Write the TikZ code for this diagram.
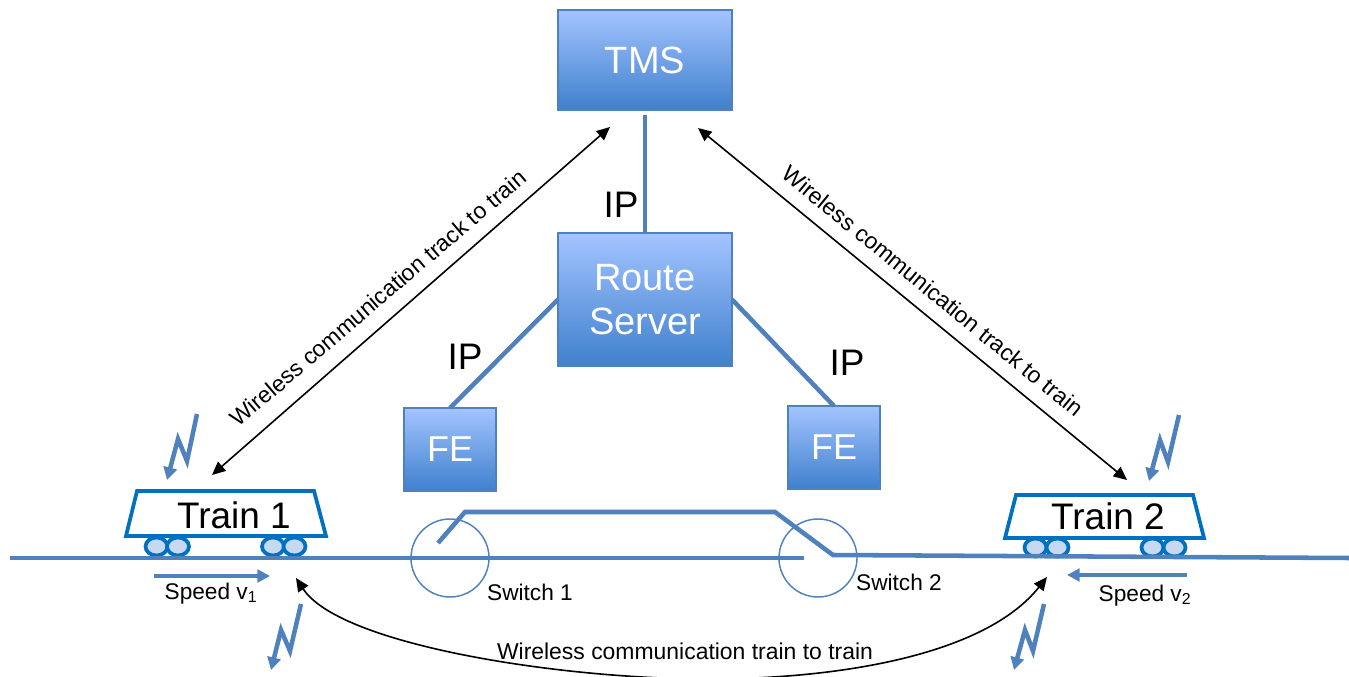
\documentclass[tikz,border=0pt]{standalone}
\usepackage{fontspec}
\setmainfont{Liberation Sans}
\usetikzlibrary{arrows.meta,calc,shapes.geometric}
\definecolor{lineblue}{HTML}{4F81BD}
\definecolor{trainblue}{HTML}{0070C0}
\definecolor{wheelfill}{HTML}{C6D9F1}
\definecolor{boxtop}{HTML}{A3C4FF}
\definecolor{boxbot}{HTML}{3F80CD}
\tikzset{
  box/.style={draw=lineblue,line width=1.5pt,top color=boxtop,bottom color=boxbot,text=white,inner sep=0pt,outer sep=0pt,align=center,font=\fontsize{28.5}{33}\selectfont},
  link/.style={draw=lineblue,line width=3.4pt},
  track/.style={draw=lineblue,line width=3.4pt},
  trainbody/.style={draw=trainblue,line width=2.8pt,line join=miter},
  wheel/.style={draw=trainblue,fill=wheelfill,line width=2.8pt,ellipse,minimum width=16.5pt,minimum height=13.5pt,inner sep=0pt},
  switchring/.style={draw=lineblue,line width=1.1pt,circle,minimum size=58.5pt,inner sep=0pt},
  comm/.style={{Triangle[length=10pt,width=9pt]}-{Triangle[length=10pt,width=9pt]},line width=1.2pt,black},
  bolt/.style={draw=lineblue,line width=3.4pt,-{Triangle[length=9.5pt,width=10pt]},line join=miter},
  speedarrow/.style={draw=lineblue,line width=3pt,-{Triangle[length=9.5pt,width=9.5pt]}},
  big/.style={font=\fontsize{27.7}{33}\selectfont,inner sep=0pt},
  small/.style={font=\fontsize{17}{20}\selectfont,inner sep=0pt},
  mid/.style={font=\fontsize{17.2}{20}\selectfont,inner sep=0pt},
}
\begin{document}
\begin{tikzpicture}[x=0.75pt,y=-0.75pt]
\useasboundingbox (0,0) rectangle (1349,677);
% boxes
\node[box,minimum width=130.5pt,minimum height=75pt] (tms) at (645,60) {TMS};
\node[box,minimum width=130.5pt,minimum height=99.75pt] (rs) at (645,299.5) {\raisebox{-0.75pt}{Route}\\\raisebox{-0.75pt}{Server}};
\node[box,font=\fontsize{27}{33}\selectfont,minimum width=69pt,minimum height=62.25pt] (fea) at (450,449.5) {\raisebox{-1pt}{FE}};
\node[box,font=\fontsize{27}{33}\selectfont,minimum width=69pt,minimum height=62.25pt] (feb) at (834,447.5) {\raisebox{-1pt}{FE}};
% links
\draw[link,shorten <=3.75pt] (tms.south) -- (rs.north);
\draw[link] (rs.west) -- (fea.north);
\draw[link] (rs.east) -- (feb.north);
\node[big] (ipa) at (621,205) {IP};
\node[big] (ipb) at (465,357) {IP};
\node[big] (ipc) at (847,363) {IP};
% switches
\node[switchring] (swa) at (450,558) {};
\node[switchring] (swb) at (818,558) {};
% wheels
\foreach \n/\x/\y in {wa/156.5/546.5,wb/178/546.5,wc/273/546.5,wd/294.5/546.5,we/1035.5/547.5,wf/1057.5/547.5,wg/1152.5/547.5,wh/1174.5/547.5}
  \node[wheel] (\n) at (\x,\y) {};
% tracks
\draw[track] (10,558) -- (804,558);
\draw[track] (438,543) -- (465,512) -- (775,512) -- (833,555) -- (1349,558);
% trains
\draw[trainbody,fill=white] (137,491) -- (314,491) -- (326,536) -- (126,536) -- cycle;
\draw[trainbody,fill=white] (1016,495) -- (1193,495) -- (1204,538) -- (1005,538) -- cycle;
\node[big] (tra) at (234,515) {Train 1};
\node[big] (trb) at (1108,516) {Train 2};
% bolts
\draw[bolt] (197,414) -- (187,461) -- (178,439) -- (167,480);
\draw[bolt] (301,604) -- (290,651) -- (281,630) -- (271,670);
\draw[bolt] (1179,415) -- (1168,462) -- (1160,440) -- (1149,481);
\draw[bolt] (1044,604) -- (1033,651) -- (1025,630) -- (1014,670);
% speed
\coordinate (sa1) at (154,576); \coordinate (sa2) at (270,576);
\coordinate (sb1) at (1187,575); \coordinate (sb2) at (1067,575);
\draw[speedarrow] (sa1) -- (sa2);
\draw[speedarrow] (sb1) -- (sb2);
\node[small] (va) at (211,593.5) {Speed v\textsubscript{1}};
\node[small] (vb) at (1145,595.5) {Speed v\textsubscript{2}};
\node[small] (sla) at (530,592) {Switch 1};
\node[small] (slb) at (899,582) {Switch 2};
% comm arrows
\coordinate (ta) at (610,127); \coordinate (tb) at (212,475);
\coordinate (tc) at (698,128); \coordinate (td) at (1127,480);
\coordinate (te) at (296,578); \coordinate (tf) at (1047,577);
\coordinate (tm) at (708,679);
\draw[comm] (ta) -- (tb);
\draw[comm] (tc) -- (td);
\draw[comm] (te) .. controls (340,645) and (560,679) .. (tm) .. controls (840,679) and (985,655) .. (tf);
\node[mid,rotate=40.5] (ca) at (378,298) {Wireless communication track to train};
\node[mid,rotate=-39.3] (cb) at (933,291) {Wireless communication track to train};
\node[mid] (cc) at (685,651) {Wireless communication train to train};
\end{tikzpicture}
\end{document}
